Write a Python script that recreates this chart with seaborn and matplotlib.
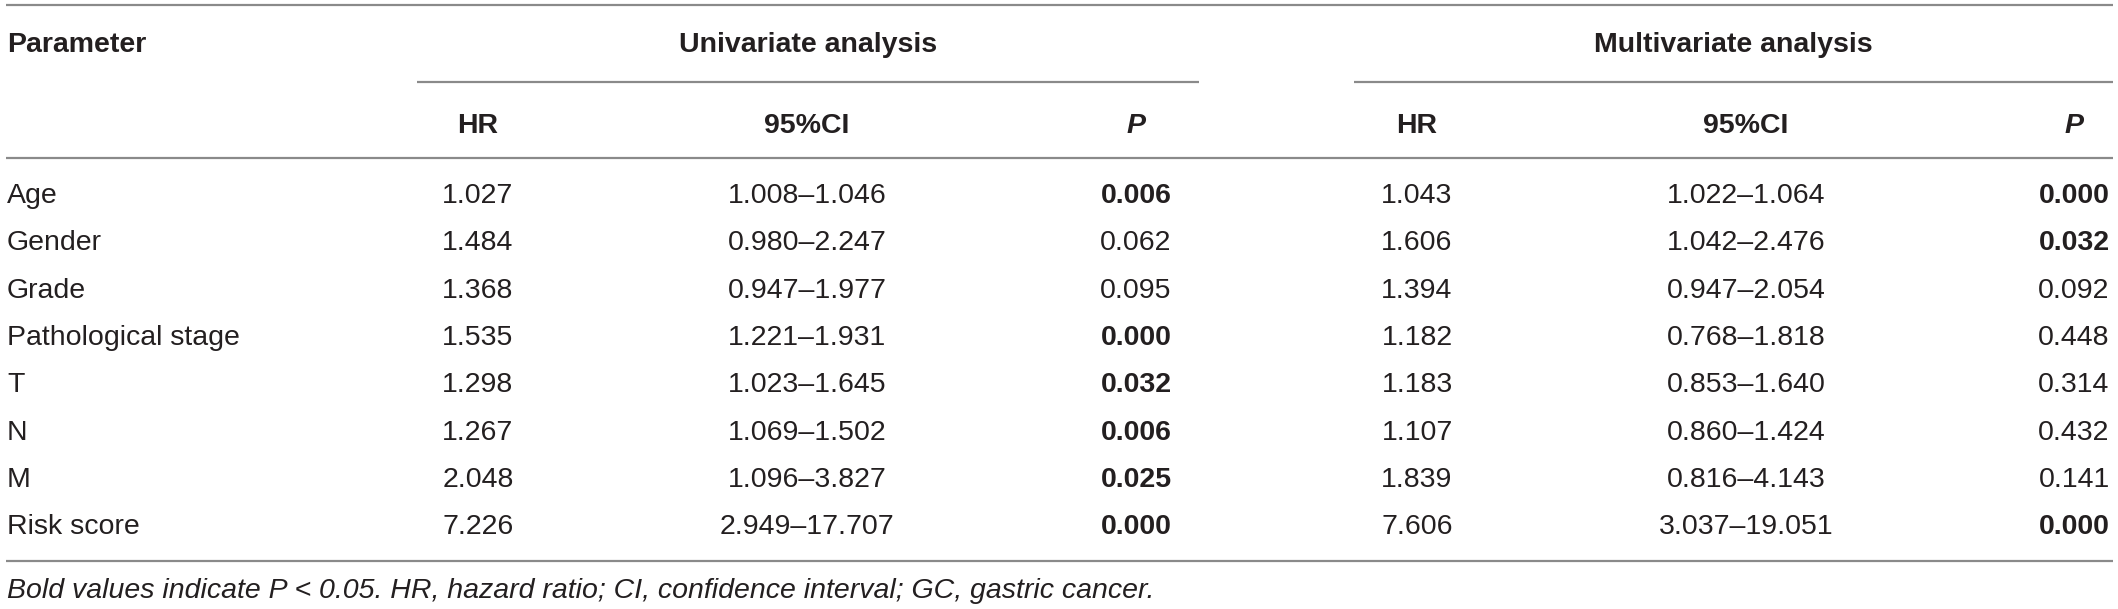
import numpy as np
import pandas as pd
import matplotlib.pyplot as plt
import seaborn as sns

# ---------------------- TABLE DATA ----------------------

parameters = ["Age", "Gender", "Grade", "Pathological stage", "T", "N", "M", "Risk score"]

uni_hr = ["1.027", "1.484", "1.368", "1.535", "1.298", "1.267", "2.048", "7.226"]
uni_ci = ["1.008–1.046", "0.980–2.247", "0.947–1.977", "1.221–1.931",
          "1.023–1.645", "1.069–1.502", "1.096–3.827", "2.949–17.707"]
uni_p = ["0.006", "0.062", "0.095", "0.000", "0.032", "0.006", "0.025", "0.000"]

multi_hr = ["1.043", "1.606", "1.394", "1.182", "1.183", "1.107", "1.839", "7.606"]
multi_ci = ["1.022–1.064", "1.042–2.476", "0.947–2.054", "0.768–1.818",
            "0.853–1.640", "0.860–1.424", "0.816–4.143", "3.037–19.051"]
multi_p = ["0.000", "0.032", "0.092", "0.448", "0.314", "0.432", "0.141", "0.000"]

group_labels = ["Univariate analysis", "Multivariate analysis"]
sub_labels = ["HR", "95%CI", "P"]
footnote = ("Bold values indicate P < 0.05. HR, hazard ratio; "
            "CI, confidence interval; GC, gastric cancer.")

df = pd.DataFrame({
    "Parameter": parameters,
    "uni_hr": uni_hr, "uni_ci": uni_ci, "uni_p": uni_p,
    "multi_hr": multi_hr, "multi_ci": multi_ci, "multi_p": multi_p,
})

# ---------------------- LAYOUT ----------------------

W, H = 2118, 609
sns.set_theme(style="white")
plt.rcParams['font.family'] = ['Liberation Sans', 'DejaVu Sans']

text_col = "#231f20"
line_col = "#8a8a8a"
fs = 20.5

fig = plt.figure(figsize=(W / 100, H / 100), dpi=100)
ax = fig.add_axes([0, 0, 1, 1])
ax.set_xlim(0, W)
ax.set_ylim(H, 0)
ax.axis("off")

left_x = 7
col_x = [478, 807, 1136, 1417, 1746, 2074]
col_keys = ["uni_hr", "uni_ci", "uni_p", "multi_hr", "multi_ci", "multi_p"]
group_spans = [(417, 1199), (1354, 2113)]

y_top, y_group, y_head, y_body_top, y_bottom = 5, 82, 158, 158, 561
base_group, base_sub = 52, 133
base_first, row_step = 203, 47.3
base_foot = 598

# rules
ax.hlines([y_top, y_head, y_bottom], 6, 2113, color=line_col, lw=1.6)
for x0, x1 in group_spans:
    ax.hlines(y_group, x0, x1, color=line_col, lw=1.6)

# header
ax.text(left_x, base_group, "Parameter", fontsize=fs, fontweight="bold",
        color=text_col, va="baseline", ha="left")
for (x0, x1), lab in zip(group_spans, group_labels):
    ax.text((x0 + x1) / 2, base_group, lab, fontsize=fs, fontweight="bold",
            color=text_col, va="baseline", ha="center")
for i, x in enumerate(col_x):
    lab = sub_labels[i % 3]
    ax.text(x, base_sub, lab, fontsize=fs, fontweight="bold",
            style="italic" if lab == "P" else "normal",
            color=text_col, va="baseline", ha="center")

# body
for r, row in df.iterrows():
    yb = base_first + r * row_step
    ax.text(left_x, yb, row["Parameter"], fontsize=fs, color=text_col,
            va="baseline", ha="left")
    for key, x in zip(col_keys, col_x):
        val = row[key]
        bold = key.endswith("_p") and float(val) < 0.05
        ax.text(x, yb, val, fontsize=fs, color=text_col,
                fontweight="bold" if bold else "normal",
                va="baseline", ha="center")

ax.text(left_x, base_foot, footnote, fontsize=fs, style="italic",
        color=text_col, va="baseline", ha="left")

fig.savefig("out.png", dpi=100)
